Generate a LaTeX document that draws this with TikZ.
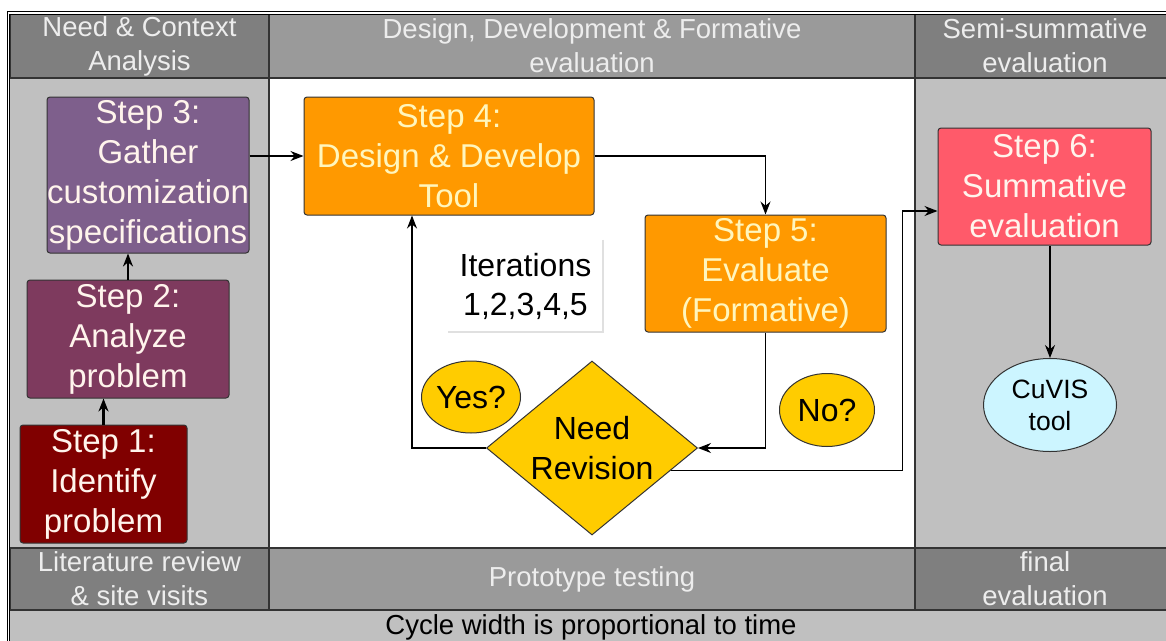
\documentclass[tikz,border=0pt]{standalone}
\usepackage{fontspec}
\setmainfont{Liberation Sans}
\usetikzlibrary{positioning, arrows.meta, shapes.geometric}

\definecolor{hdrdark}{HTML}{7F7F7F}
\definecolor{hdrmid}{HTML}{9A9A9A}
\definecolor{bodygray}{HTML}{C0C0C0}
\definecolor{hdrtext}{HTML}{EDEDED}
\definecolor{stepone}{HTML}{800000}
\definecolor{steptwo}{HTML}{7E3A5E}
\definecolor{stepthree}{HTML}{7E5F8C}
\definecolor{steporange}{HTML}{FF9900}
\definecolor{stepsix}{HTML}{FF5A6A}
\definecolor{decision}{HTML}{FFCC00}
\definecolor{tooltone}{HTML}{CCF5FF}
\definecolor{boxtext}{HTML}{FFF4EC}

\begin{document}
\begin{tikzpicture}[x=1pt, y=-1pt,
  every node/.style={inner sep=0pt, align=center},
  cell/.style={draw=black!80, line width=1.2pt, text=hdrtext,
    font=\fontsize{27.5}{34}\selectfont},
  stepbox/.style={draw=black!80, line width=1pt, rounded corners=3pt,
    text=boxtext, font=\fontsize{33}{40}\selectfont},
  oval/.style={ellipse, draw=black!80, line width=1pt, fill=decision,
    font=\fontsize{32}{38}\selectfont},
  arr/.style={-{Stealth[length=13pt, width=10pt]}, line width=1.2pt},
  fatarr/.style={-{Stealth[length=13pt, width=10pt]}, line width=2.2pt},
]
\useasboundingbox (0,0) rectangle (1166,640);
\clip (0,0) rectangle (1166,640);

% body cells
\fill[bodygray] (10,78) rectangle (269,548);
\fill[white] (269,78) rectangle (915,548);
\fill[bodygray] (915,78) rectangle (1170,548);
\fill[bodygray] (10,610) rectangle (1170,645);

% header and footer cells
\node[cell, fill=hdrdark, minimum width=259, minimum height=64] (hneed) at (139.5,46) {Need \& Context\\Analysis};
\node[cell, fill=hdrmid, minimum width=646, minimum height=64] (hdesign) at (592,46) {Design, Development \& Formative\\evaluation};
\node[cell, fill=hdrdark, minimum width=260, minimum height=64] (hsemi) at (1045,46) {Semi-summative\\evaluation};
\node[cell, fill=hdrdark, minimum width=259, minimum height=62] (flit) at (139.5,579) {Literature review\\\& site visits};
\node[cell, fill=hdrmid, minimum width=646, minimum height=62] (fproto) at (592,579) {Prototype testing};
\node[cell, fill=hdrdark, minimum width=260, minimum height=62] (ffinal) at (1045,579) {final\\evaluation};
\node[font=\fontsize{27.5}{34}\selectfont] (cycle) at (591,627) {Cycle width is proportional to time};

% column rules
\draw[black!80, line width=1.2pt] (269,78) -- (269,548) (915,78) -- (915,548);
\draw[double, double distance=1.6pt, line width=0.8pt] (8.5,13) rectangle (1180,660);

% steps
\node[stepbox, fill=stepone, minimum width=167, minimum height=118] (s1) at (103.5,484) {Step 1:\\Identify\\problem};
\node[stepbox, fill=steptwo, minimum width=202, minimum height=118] (s2) at (128,339) {Step 2:\\Analyze\\problem};
\node[stepbox, fill=stepthree, minimum width=202, minimum height=156] (s3) at (148,175) {Step 3:\\Gather\\customization\\specifications};
\node[stepbox, fill=steporange, text=boxtext!80!yellow, minimum width=290, minimum height=118] (s4) at (449,156) {Step 4:\\Design \& Develop\\Tool};
\node[stepbox, fill=steporange, text=boxtext!80!yellow, minimum width=241, minimum height=117] (s5) at (765.5,273.5) {Step 5:\\Evaluate\\(Formative)};
\node[stepbox, fill=stepsix, minimum width=213, minimum height=117] (s6) at (1044.5,186.5) {Step 6:\\Summative\\evaluation};

% iteration note
\node[minimum width=155, minimum height=92, font=\fontsize{32}{39}\selectfont] (iter) at (525.5,286) {Iterations\\1,2,3,4,5};
\draw[black!12, line width=2pt] (iter.north east) -- (iter.south east) -- (iter.south west);

% decision
\node[diamond, aspect=1.21, draw=black!80, line width=1pt, fill=decision,
  minimum width=211, minimum height=174, font=\fontsize{32}{40}\selectfont] (rev) at (592,448) {Need\\Revision};
\node[oval, minimum width=93, minimum height=72] (yes) at (471,397) {Yes?};
\node[oval, minimum width=95, minimum height=73] (no) at (827,410) {No?};
\node[ellipse, draw=black!80, line width=1pt, fill=tooltone, minimum width=133, minimum height=93,
  font=\fontsize{26.5}{32}\selectfont] (cuvis) at (1050,405) {CuVIS\\tool};

% connectors
\draw[fatarr] (s1.north) -- (s1.north |- s2.south);
\draw[fatarr] (s2.north) -- (s2.north |- s3.south);
\draw[arr] (s4.west -| s3.east) -- (s4.west);
\draw[arr] (s4.east) -| (s5.north);
\draw[arr] (s5.south) |- (rev.east);
\draw[arr] (rev.west) -| ([xshift=-37pt]s4.south);
\draw[arr] (rev.-16) -- ++(232,0) |- ([yshift=-24.5pt]s6.west);
\draw[arr] (s6.south -| cuvis.north) -- (cuvis.north);
\end{tikzpicture}
\end{document}
